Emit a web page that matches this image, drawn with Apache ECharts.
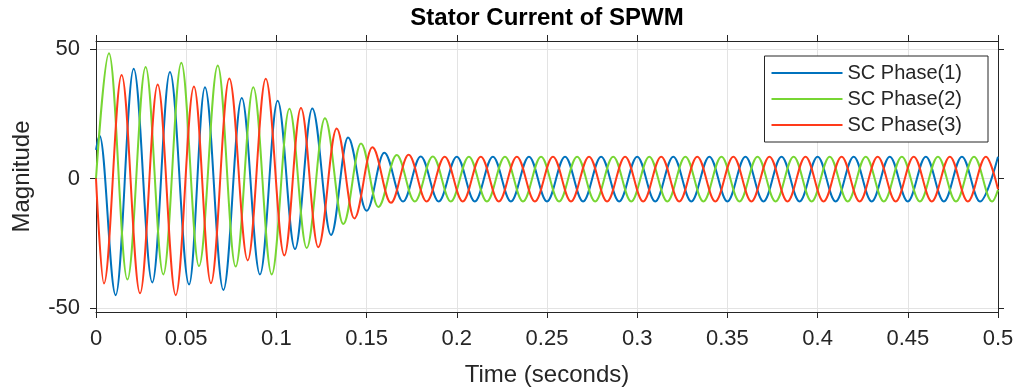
<!DOCTYPE html>
<html>
<head>
<meta charset="utf-8">
<script src="https://cdn.jsdelivr.net/npm/echarts@6/dist/echarts.min.js"></script>
<style>
html,body{margin:0;padding:0;background:#fff;}
#chart{width:1022px;height:392px;}
</style>
</head>
<body>
<div id="chart"></div>
<script>
// Extremum points [time (s), current]
const seriesNames = ['SC Phase(1)', 'SC Phase(2)', 'SC Phase(3)'];
const xTicks = [0, 0.05, 0.1, 0.15, 0.2, 0.25, 0.3, 0.35, 0.4, 0.45, 0.5];
const yTicks = [-50, 0, 50];

const phase1 = [
  [0.0000, 11.0], [0.0020, 16.5], [0.0109, -45.0], [0.0209, 42.3], [0.0312, -40.1],
  [0.0410, 41.0], [0.0516, -40.9], [0.0604, 35.2], [0.0706, -43.0], [0.0808, 31.0],
  [0.0909, -37.0], [0.1007, 30.0], [0.1103, -27.2], [0.1199, 27.0], [0.1303, -21.8],
  [0.1397, 15.8], [0.1500, -12.5], [0.1598, 9.9], [0.1702, -8.9], [0.1800, 8.5],
  [0.1900, -8.9], [0.2000, 8.4], [0.2100, -8.9], [0.2200, 8.4], [0.2300, -8.9],
  [0.2400, 8.4], [0.2500, -8.9], [0.2600, 8.4], [0.2700, -8.9], [0.2800, 8.4],
  [0.2900, -8.9], [0.3000, 8.4], [0.3100, -8.9], [0.3200, 8.4], [0.3300, -8.9],
  [0.3400, 8.4], [0.3500, -8.9], [0.3600, 8.4], [0.3700, -8.9], [0.3800, 8.4],
  [0.3900, -8.9], [0.4000, 8.4], [0.4100, -8.9], [0.4200, 8.4], [0.4300, -8.9],
  [0.4400, 8.4], [0.4500, -8.9], [0.4600, 8.4], [0.4700, -8.9], [0.4800, 8.4],
  [0.4900, -8.9], [0.5000, 8.4]
];
const phase2 = [
  [0.0000, 0.0], [0.0072, 48.3], [0.0174, -39.0], [0.0275, 43.0], [0.0373, -37.0],
  [0.0473, 44.6], [0.0571, -33.8], [0.0675, 43.6], [0.0774, -34.0], [0.0872, 35.2],
  [0.0974, -37.0], [0.1072, 26.9], [0.1168, -26.8], [0.1269, 23.2], [0.1371, -17.6],
  [0.1469, 13.5], [0.1565, -11.0], [0.1667, 9.0], [0.1767, -8.9], [0.1867, 8.5],
  [0.1967, -8.9], [0.2067, 8.4], [0.2167, -8.9], [0.2267, 8.4], [0.2367, -8.9],
  [0.2467, 8.4], [0.2567, -8.9], [0.2667, 8.4], [0.2767, -8.9], [0.2867, 8.4],
  [0.2967, -8.9], [0.3067, 8.4], [0.3167, -8.9], [0.3267, 8.4], [0.3367, -8.9],
  [0.3467, 8.4], [0.3567, -8.9], [0.3667, 8.4], [0.3767, -8.9], [0.3867, 8.4],
  [0.3967, -8.9], [0.4067, 8.4], [0.4167, -8.9], [0.4267, 8.4], [0.4367, -8.9],
  [0.4467, 8.4], [0.4567, -8.9], [0.4667, 8.4], [0.4767, -8.9], [0.4867, 8.4],
  [0.4967, -8.9], [0.5000, -4.4]
];
const phase3 = [
  [0.0000, 0.0], [0.0044, -40.5], [0.0142, 39.9], [0.0244, -44.3], [0.0342, 36.2],
  [0.0442, -45.0], [0.0543, 35.5], [0.0637, -40.4], [0.0739, 38.5], [0.0841, -31.6],
  [0.0941, 38.4], [0.1044, -29.7], [0.1136, 27.2], [0.1232, -26.5], [0.1334, 19.3],
  [0.1432, -15.4], [0.1532, 12.0], [0.1635, -9.4], [0.1733, 9.1], [0.1833, -8.9],
  [0.1933, 8.4], [0.2033, -8.9], [0.2133, 8.4], [0.2233, -8.9], [0.2333, 8.4],
  [0.2433, -8.9], [0.2533, 8.4], [0.2633, -8.9], [0.2733, 8.4], [0.2833, -8.9],
  [0.2933, 8.4], [0.3033, -8.9], [0.3133, 8.4], [0.3233, -8.9], [0.3333, 8.4],
  [0.3433, -8.9], [0.3533, 8.4], [0.3633, -8.9], [0.3733, 8.4], [0.3833, -8.9],
  [0.3933, 8.4], [0.4033, -8.9], [0.4133, 8.4], [0.4233, -8.9], [0.4333, 8.4],
  [0.4433, -8.9], [0.4533, 8.4], [0.4633, -8.9], [0.4733, 8.4], [0.4833, -8.9],
  [0.4933, 8.4], [0.5000, -4.2]
];

const colors = ['#0072BD', '#77D633', '#FF3A1A'];
const phases = [phase1, phase2, phase3];
const ink = '#262626';
const FONT = '"Liberation Sans", Arial, Helvetica, sans-serif';

const chart = echarts.init(document.getElementById('chart'), null, {renderer: 'canvas'});

const xBase = {
  type: 'value', min: 0, max: 0.5, interval: 0.05,
  axisLine: {show: true, onZero: false, lineStyle: {color: ink, width: 1}},
  axisTick: {show: true, inside: false, length: 6, lineStyle: {color: ink}},
};
const yBase = {
  type: 'value', min: -51.5, max: 53,
  axisLine: {show: true, onZero: false, lineStyle: {color: ink, width: 1}},
  axisTick: {show: true, inside: false, length: 6, customValues: yTicks, lineStyle: {color: ink}},
};

chart.setOption({
  animation: false,
  backgroundColor: '#ffffff',
  title: {
    text: 'Stator Current of SPWM',
    left: 547, top: 6, padding: 0, textAlign: 'center',
    textStyle: {fontFamily: FONT, fontSize: 24, fontWeight: 'bold', color: '#000'}
  },
  grid: {left: 96, right: 24, top: 41, bottom: 77, show: false},
  legend: {
    orient: 'vertical', right: 34, top: 56,
    padding: [7, 26, 7, 7], itemGap: 6, itemWidth: 71, itemHeight: 2,
    icon: 'rect',
    backgroundColor: '#ffffff', borderColor: ink, borderWidth: 1, borderRadius: 0,
    textStyle: {fontFamily: FONT, fontSize: 20, color: ink, lineHeight: 20},
    data: seriesNames
  },
  xAxis: [
    Object.assign({}, xBase, {
      position: 'bottom',
      name: 'Time (seconds)', nameLocation: 'middle', nameGap: 51,
      nameTextStyle: {fontFamily: FONT, fontSize: 24, color: ink},
      axisLabel: {show: true, margin: 16, fontFamily: FONT, fontSize: 22, color: ink,
        customValues: xTicks,
        formatter: v => String(Math.round(v * 100) / 100)},
      splitLine: {show: true, lineStyle: {color: '#e3e3e3', width: 1}}
    }),
    Object.assign({}, xBase, {
      position: 'top',
      axisLabel: {show: false},
      splitLine: {show: false}
    })
  ],
  yAxis: [
    Object.assign({}, yBase, {
      position: 'left',
      name: 'Magnitude', nameLocation: 'middle', nameGap: 62,
      nameTextStyle: {fontFamily: FONT, fontSize: 24, color: ink},
      axisLabel: {show: true, margin: 16, fontFamily: FONT, fontSize: 22, color: ink,
        customValues: yTicks},
      splitLine: {show: true, lineStyle: {color: '#e3e3e3', width: 1}}
    }),
    Object.assign({}, yBase, {
      position: 'right',
      axisLabel: {show: false},
      splitLine: {show: false}
    })
  ],
  series: phases.map((d, i) => ({
    name: seriesNames[i],
    type: 'line',
    xAxisIndex: 0, yAxisIndex: 0,
    data: d,
    showSymbol: false, symbol: 'none',
    smooth: 0.36, smoothMonotone: 'x',
    lineStyle: {color: colors[i], width: 2},
    itemStyle: {color: colors[i]},
    z: 2 + i
  }))
});
</script>
</body>
</html>
